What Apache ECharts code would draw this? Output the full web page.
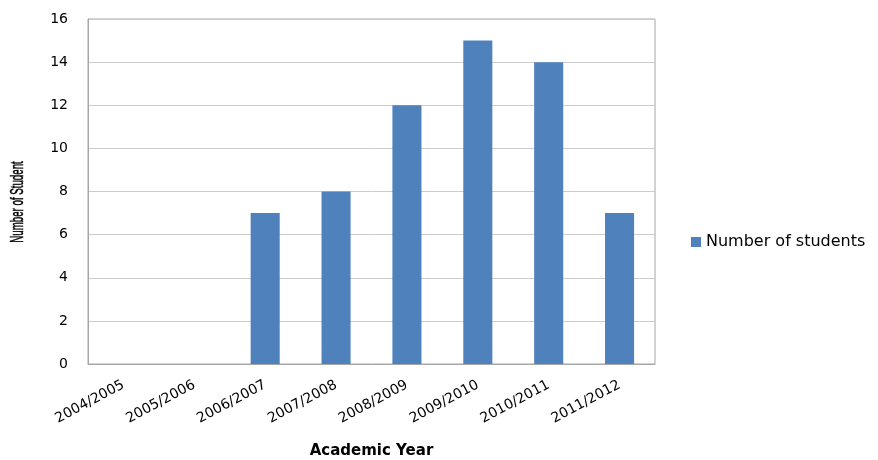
<!DOCTYPE html>
<html>
<head>
<meta charset="utf-8">
<script src="https://cdn.jsdelivr.net/npm/echarts@6/dist/echarts.min.js"></script>
<style>
  html, body { margin: 0; padding: 0; background: #fff; }
  #chart { width: 878px; height: 460px; }
</style>
</head>
<body>
<div id="chart"></div>
<script>
// Students per academic year
const academicYears = ['2004/2005', '2005/2006', '2006/2007', '2007/2008', '2008/2009', '2009/2010', '2010/2011', '2011/2012'];
const studentCounts = [0, 0, 7, 8, 12, 15, 14, 7];
const yTicks = { min: 0, max: 16, step: 2 };

const chart = echarts.init(document.getElementById('chart'));
chart.setOption({
  animation: false,
  backgroundColor: '#ffffff',
  grid: {
    left: 88, right: 223, top: 19, bottom: 96,
    outerBoundsMode: 'none',
    show: true, borderColor: '#a6a6a6', borderWidth: 1
  },
  legend: {
    data: ['Number of students'],
    left: 686, top: 229,
    itemWidth: 10, itemHeight: 10, itemGap: 6,
    icon: 'rect',
    textStyle: { fontFamily: 'DejaVu Sans', fontSize: 16, color: '#000' }
  },
  // condensed, rotated y-axis title
  graphic: [{
    type: 'text',
    x: 18, y: 202,
    rotation: Math.PI / 2,
    scaleX: 0.54,
    style: {
      text: 'Number of Student',
      font: '18px "Liberation Sans"',
      fill: '#000',
      stroke: '#000',
      lineWidth: 0.5,
      align: 'center',
      verticalAlign: 'middle'
    }
  }],
  xAxis: {
    type: 'category',
    data: academicYears,
    name: 'Academic Year',
    nameLocation: 'middle',
    nameGap: 80,
    nameTextStyle: { fontFamily: 'DejaVu Sans', fontWeight: 'bold', fontSize: 15, color: '#000' },
    axisLine: { lineStyle: { color: '#a6a6a6' } },
    axisTick: { show: false },
    axisLabel: {
      rotate: 28, interval: 0, margin: 20,
      fontFamily: 'DejaVu Sans', fontSize: 14, color: '#000'
    }
  },
  yAxis: {
    type: 'value',
    min: yTicks.min, max: yTicks.max, interval: yTicks.step,
    axisLine: { show: true, lineStyle: { color: '#a6a6a6' } },
    axisTick: { show: false },
    axisLabel: { fontFamily: 'DejaVu Sans', fontSize: 14, color: '#000', margin: 20 },
    splitLine: { lineStyle: { color: '#cccccc' } }
  },
  series: [{
    name: 'Number of students',
    type: 'bar',
    data: studentCounts,
    barWidth: '41%',
    itemStyle: { color: '#4f81bd' }
  }]
});
</script>
</body>
</html>
